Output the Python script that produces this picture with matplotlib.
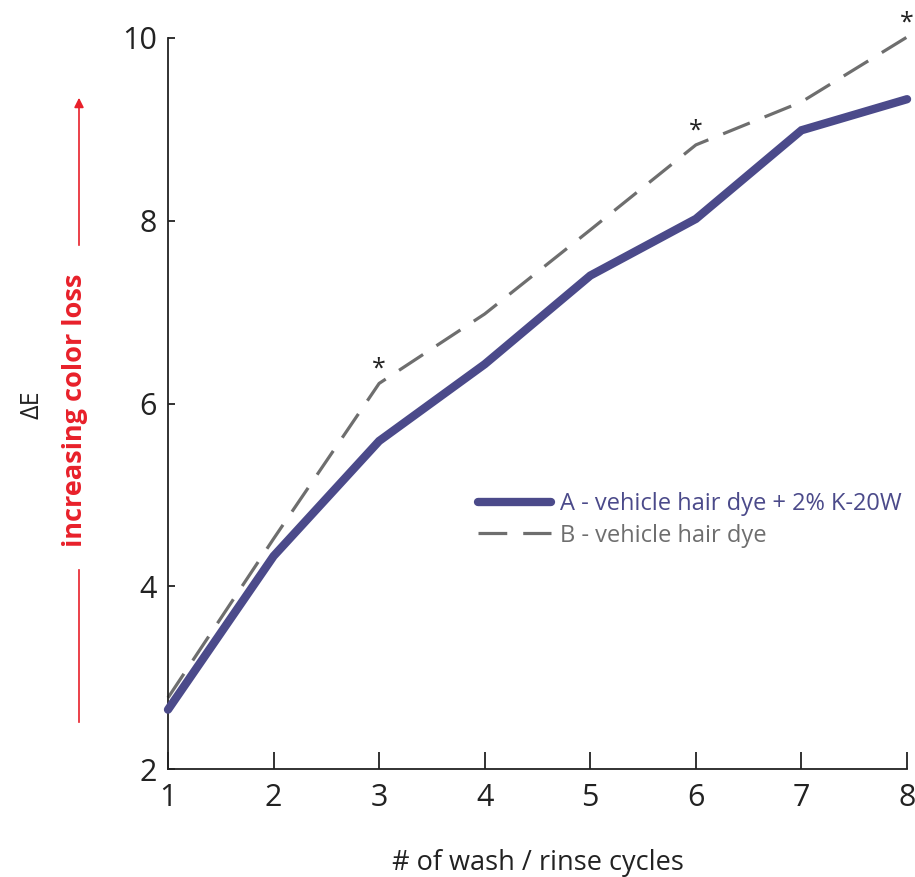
import matplotlib
matplotlib.use('Agg')

import matplotlib.pyplot as plt

cycles = [1, 2, 3, 4, 5, 6, 7, 8]
series_a = [2.65, 4.33, 5.59, 6.43, 7.40, 8.02, 8.99, 9.33]
series_b = [2.78, 4.52, 6.22, 6.98, 7.90, 8.83, 9.30, 10.01]
star_cycles = [3, 6, 8]
label_a = 'A - vehicle hair dye + 2% K-20W'
label_b = 'B - vehicle hair dye'

plt.rcParams['font.family'] = ['Open Sans', 'DejaVu Sans']

purple = '#4b4a8a'
grey = '#6e6e6e'
red = '#e8202a'

fig = plt.figure(figsize=(9.15, 8.77), dpi=100)
ax = fig.add_axes([0.1836, 0.1231, 0.8077, 0.8336])

ax.plot(cycles, series_a, color=purple, lw=6, solid_capstyle='round',
        solid_joinstyle='miter', clip_on=False, label=label_a, zorder=3)
ax.plot(cycles, series_b, color=grey, lw=2.3, dashes=(9, 5),
        clip_on=False, label=label_b, zorder=2)

for c in star_cycles:
    ax.annotate('*', (c, series_b[cycles.index(c)]), xytext=(0, 1),
                textcoords='offset points', ha='center', va='bottom',
                fontsize=18, color='#222222', annotation_clip=False)

ax.set_xlim(1, 8)
ax.set_ylim(2, 10)
ax.set_xticks(cycles)
ax.set_yticks([2, 4, 6, 8, 10])
ax.spines['top'].set_visible(False)
ax.spines['right'].set_visible(False)
for s in ['left', 'bottom']:
    ax.spines[s].set_linewidth(1.3)
    ax.spines[s].set_color('#222222')
ax.tick_params(axis='x', direction='in', length=12, width=1.3,
               labelsize=22, pad=10, colors='#222222')
ax.tick_params(axis='y', direction='in', length=5, width=1.3,
               labelsize=22, pad=8, colors='#222222')

ax.set_xlabel('# of wash / rinse cycles', fontsize=19.5, color='#222222',
              labelpad=26)

fig.text(0.035, 1 - 405 / 877, '\u0394E', rotation=90, fontsize=18,
         ha='center', va='center', color='#222222')

fig.text(75 / 915, 1 - 410 / 877, 'increasing color loss', rotation=90,
         fontsize=19.5, fontweight='bold',
         ha='center', va='center', color=red)
fig.add_artist(plt.Line2D([79 / 915, 79 / 915], [1 - 722 / 877, 1 - 570 / 877],
                          transform=fig.transFigure, color=red, lw=1.2))
fig.add_artist(matplotlib.patches.FancyArrowPatch(
    (79 / 915, 1 - 248 / 877), (79 / 915, 1 - 95 / 877),
    transform=fig.transFigure, arrowstyle='-|>', mutation_scale=14,
    color=red, lw=1.2))

leg = ax.legend(loc='center left', bbox_to_anchor=(466 / 915, 1 - 520 / 877),
                bbox_transform=fig.transFigure, frameon=False, fontsize=17,
                handlelength=3.1, handletextpad=0.4, labelspacing=0.3,
                labelcolor='linecolor', borderpad=0)

plt.savefig('out.png', dpi=100)
plt.close()
